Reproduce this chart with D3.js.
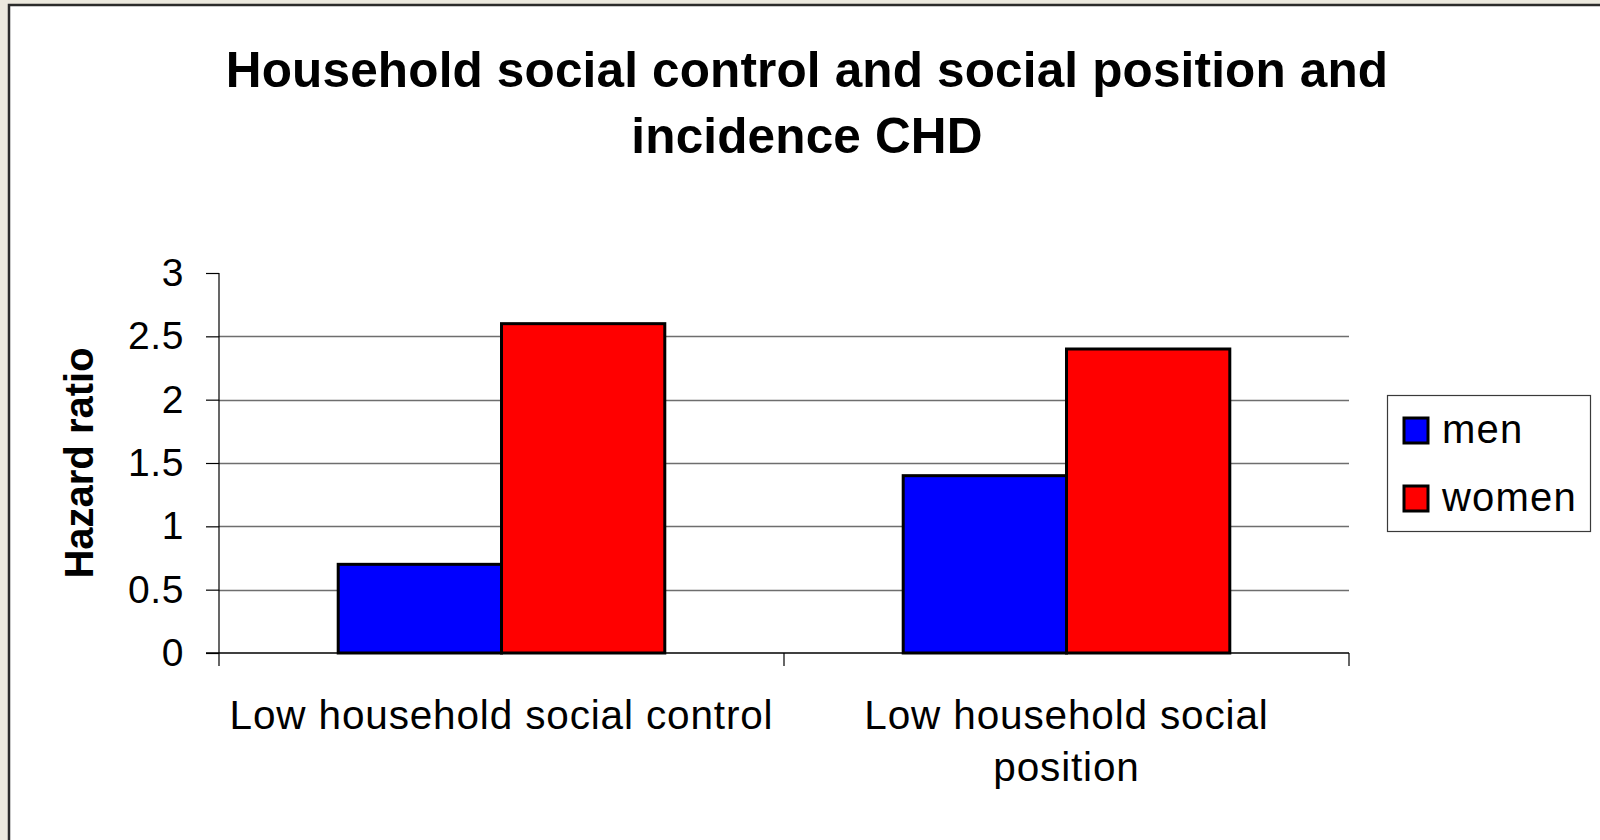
<!DOCTYPE html>
<html>
<head>
<meta charset="utf-8">
<script src="https://cdn.jsdelivr.net/npm/d3@7"></script>
<style>
  html, body { margin: 0; padding: 0; background: #ECE9DE; }
  svg { display: block; font-family: "Liberation Sans", Arial, sans-serif; }
</style>
</head>
<body>
<svg id="chart" width="1600" height="840"></svg>
<script>
const categories = ["Low household social control", "Low household social position"];
const categoryLabelLines = [["Low household social control"], ["Low household social", "position"]];
const seriesNames = ["men", "women"];
const menValues = [0.7, 1.4];
const womenValues = [2.6, 2.4];
const seriesColors = ["#0000FF", "#FF0000"];
const yTicks = [0, 0.5, 1, 1.5, 2, 2.5, 3];
const titleLines = ["Household social control and social position and", "incidence CHD"];
const yAxisTitle = "Hazard ratio";

const seriesValues = [menValues, womenValues];
const data = categories.map((c, i) => ({
  category: c,
  values: seriesNames.map((s, j) => ({ series: s, value: seriesValues[j][i] }))
}));

const svg = d3.select("#chart");

// chart background panel
svg.append("rect").attr("x", 9).attr("y", 5).attr("width", 1600).attr("height", 840)
  .attr("fill", "#ffffff").attr("stroke", "#2b2b2b").attr("stroke-width", 2.5);

const plot = { left: 219, right: 1349, top: 273, bottom: 653 };

const y = d3.scaleLinear().domain([0, 3]).range([plot.bottom, plot.top]);
const x0 = d3.scaleBand().domain(categories).range([plot.left, plot.right]).paddingInner(0).paddingOuter(0);
const x1 = d3.scaleBand().domain(seriesNames).range([0, x0.bandwidth()]).paddingInner(0).paddingOuter(0.73);
const color = d3.scaleOrdinal().domain(seriesNames).range(seriesColors);

// gridlines
svg.append("g").selectAll("line").data(yTicks.filter(t => t > 0 && t < 3)).join("line")
  .attr("x1", plot.left).attr("x2", plot.right)
  .attr("y1", d => Math.round(y(d)) + 0.5).attr("y2", d => Math.round(y(d)) + 0.5)
  .attr("stroke", "#6e6e6e").attr("stroke-width", 1.5);

// bars
const groups = svg.append("g").selectAll("g").data(data).join("g")
  .attr("transform", d => `translate(${x0(d.category)},0)`);
groups.selectAll("rect").data(d => d.values).join("rect")
  .attr("x", d => x1(d.series))
  .attr("y", d => y(d.value))
  .attr("width", x1.bandwidth())
  .attr("height", d => y(0) - y(d.value))
  .attr("fill", d => color(d.series))
  .attr("stroke", "#000").attr("stroke-width", 3);

// y axis
const yAxis = d3.axisLeft(y).tickValues(yTicks).tickSize(13).tickPadding(22)
  .tickFormat(d => d3.format("")(d));
const gy = svg.append("g").attr("transform", `translate(${plot.left},0)`).call(yAxis);
gy.select(".domain").remove();
gy.selectAll(".tick line").attr("stroke", "#000").attr("stroke-width", 1.2);
gy.selectAll(".tick text").attr("font-size", 39).attr("fill", "#000")
  .attr("letter-spacing", 0.6)
  .attr("font-family", "Liberation Sans, Arial, sans-serif");
svg.append("line").attr("x1", plot.left).attr("x2", plot.left)
  .attr("y1", plot.top).attr("y2", plot.bottom + 13)
  .attr("stroke", "#000").attr("stroke-width", 1.2);

// x axis
svg.append("line").attr("x1", plot.left - 13).attr("x2", plot.right)
  .attr("y1", plot.bottom).attr("y2", plot.bottom)
  .attr("stroke", "#000").attr("stroke-width", 1.5);
const xBoundaries = categories.map(c => x0(c)).concat([x0(categories[categories.length - 1]) + x0.bandwidth()]);
svg.append("g").selectAll("line").data(xBoundaries.slice(1)).join("line")
  .attr("x1", d => d).attr("x2", d => d)
  .attr("y1", plot.bottom).attr("y2", plot.bottom + 13)
  .attr("stroke", "#000").attr("stroke-width", 1.2);

const xl = svg.append("g").selectAll("text").data(categories).join("text")
  .attr("x", d => x0(d) + x0.bandwidth() / 2)
  .attr("y", 729)
  .attr("text-anchor", "middle").attr("font-size", 40.5).attr("fill", "#000")
  .attr("letter-spacing", 0.85);
xl.each(function(d, i) {
  const t = d3.select(this);
  categoryLabelLines[i].forEach((line, k) => {
    t.append("tspan").attr("x", x0(d) + x0.bandwidth() / 2).attr("dy", k === 0 ? 0 : 52).text(line);
  });
});

// y axis title
svg.append("text")
  .attr("transform", "translate(93,463) rotate(-90)")
  .attr("text-anchor", "middle").attr("font-size", 40).attr("font-weight", "bold")
  .attr("fill", "#000").text(yAxisTitle);

// title
svg.append("g").selectAll("text").data(titleLines).join("text")
  .attr("x", 807).attr("y", (d, i) => 87 + i * 66)
  .attr("text-anchor", "middle").attr("font-size", 49.5).attr("font-weight", "bold")
  .attr("letter-spacing", 0.15)
  .attr("fill", "#000").text(d => d);

// legend
const legend = svg.append("g");
legend.append("rect").attr("x", 1387.5).attr("y", 395.5).attr("width", 203).attr("height", 136)
  .attr("fill", "#fff").attr("stroke", "#3a3a3a").attr("stroke-width", 1.2);
const li = legend.selectAll("g").data(seriesNames).join("g")
  .attr("transform", (d, i) => `translate(1404,${418 + i * 68})`);
li.append("rect").attr("width", 24).attr("height", 25)
  .attr("fill", d => color(d)).attr("stroke", "#000").attr("stroke-width", 3);
li.append("text").attr("x", 38).attr("y", 25).attr("font-size", 40)
  .attr("letter-spacing", 1.2).attr("fill", "#000").text(d => d);
</script>
</body>
</html>
